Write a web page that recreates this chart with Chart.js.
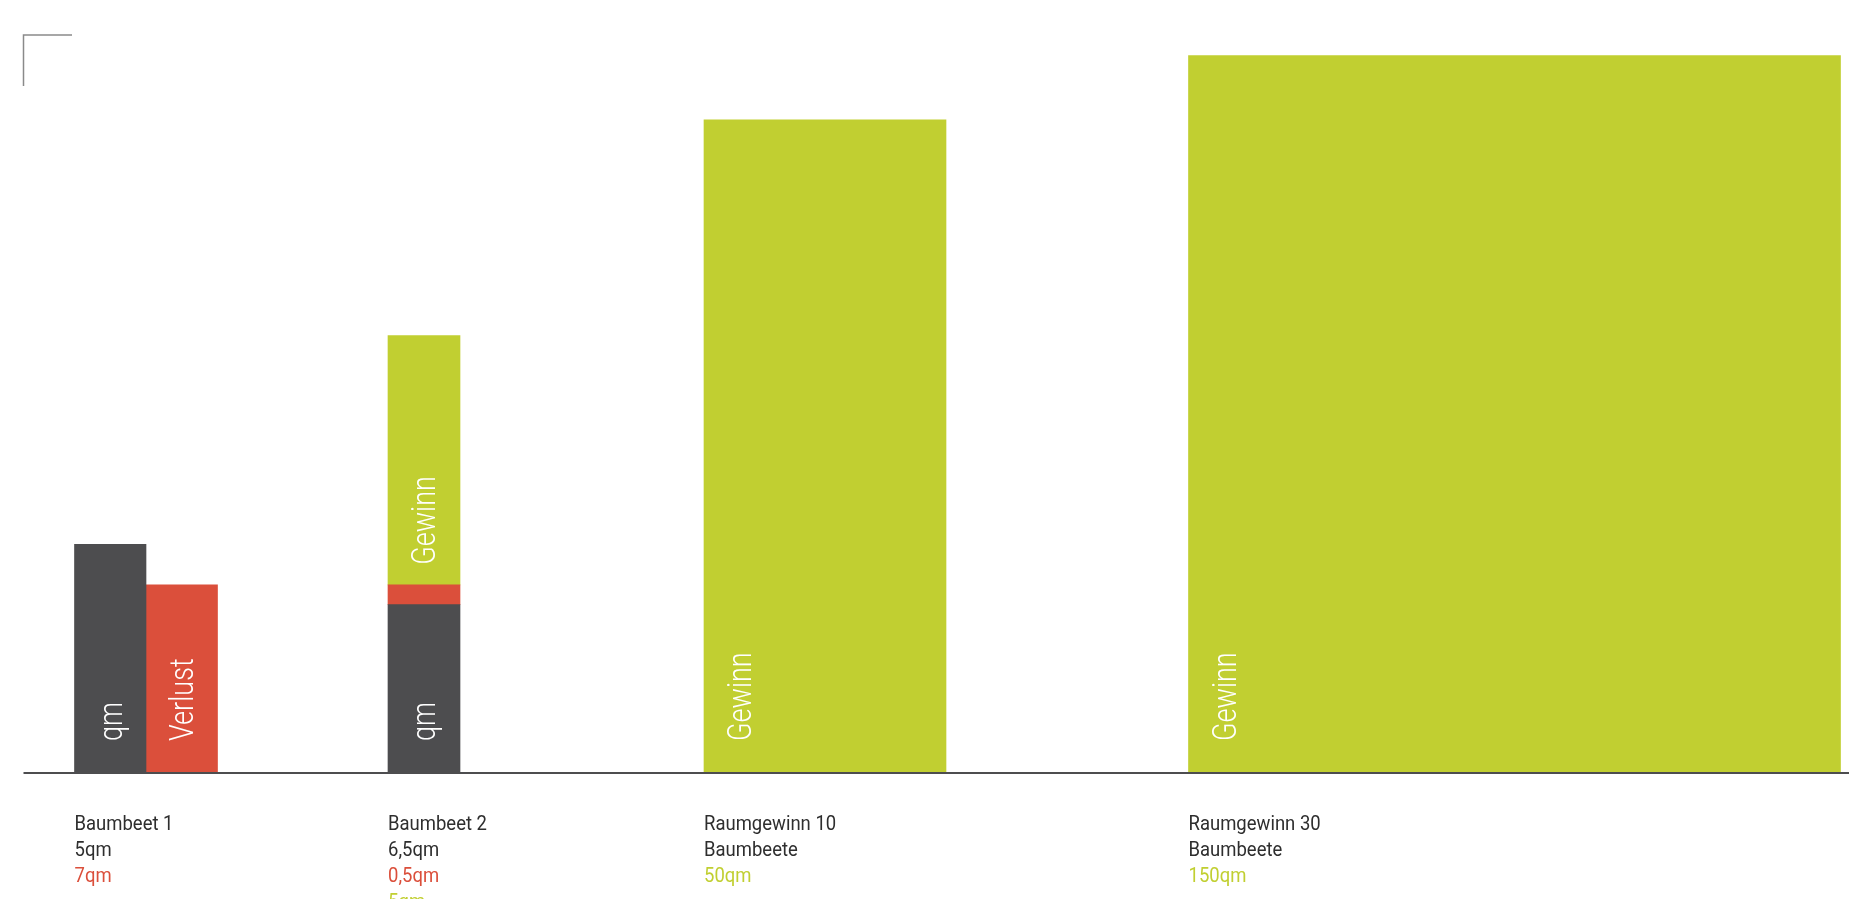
<!DOCTYPE html>
<html lang="de">
<head>
<meta charset="utf-8">
<title>Raumgewinn Baumbeete</title>
<script src="https://cdn.jsdelivr.net/npm/chart.js@4.4.1/dist/chart.umd.min.js"></script>
<style>
    html, body { margin: 0; padding: 0; background: #ffffff; }
    #chartBox { position: relative; width: 1849px; height: 899px; }
</style>
</head>
<body>
<div id="chartBox"><canvas id="raumgewinnChart"></canvas></div>
<script>
const categories = ['Baumbeet 1', 'Baumbeet 2', 'Raumgewinn 10', 'Raumgewinn 30'];
const categorySubtitles = ['', '', 'Baumbeete', 'Baumbeete'];

// areas printed under each column, in qm
const areaValues = [5, 6.5, null, null];
const lossValues = [7, 0.5, null, null];
const gainValues = [null, 5, 50, 150];

// drawn bar heights (the graphic is not to scale), axis 0-100
const areaHeights = [30.9, 22.7, null, null];
const lossHeights = [25.4, 2.7, null, null];
const gainHeights = [null, 33.8, 88.5, 97.2];

const seriesLabels = ['qm', 'Verlust', 'Gewinn'];

const colors = {
    area: '#4d4d4f',
    loss: '#db4f3b',
    gain: '#c1cf31',
    text: '#2e2e2e',
    corner: '#8a8a8a',
};

// column geometry, px from the left edge of the plot area
const columnLeft = [51, 364.5, 680.5, 1165];
const columnWidth = [71.5, 72, 242, 652];
// Baumbeet 1 shows qm and Verlust next to each other, the others stack
const sideBySide = [true, false, false, false];

const plotWidth = 1849 - 23.5;

function formatQm(value) {
    return String(value).replace('.', ',') + 'qm';
}

const series = [
    { label: seriesLabels[0], heights: areaHeights, color: colors.area },
    { label: seriesLabels[1], heights: lossHeights, color: colors.loss },
    { label: seriesLabels[2], heights: gainHeights, color: colors.gain },
];

const datasets = [];

series.forEach((s, sIndex) => {
    s.heights.forEach((height, i) => {
        if (height === null) {
            return;
        }

        const shift = sideBySide[i] && sIndex === 1 ? columnWidth[i] : 0;

        datasets.push({
            label: categories[i] + ' – ' + s.label,
            innerLabel: s.label,
            data: [{ x: columnLeft[i] + shift + columnWidth[i] / 2, y: height }],
            backgroundColor: s.color,
            borderWidth: 0,
            barThickness: columnWidth[i],
            stack: 'column',
        });
    });
});

const framePlugin = {
    id: 'frame',
    afterDatasetsDraw(chart) {
        const { ctx, chartArea } = chart;

        ctx.save();
        // corner mark
        ctx.strokeStyle = colors.corner;
        ctx.lineWidth = 1.5;
        ctx.beginPath();
        ctx.moveTo(chartArea.left + 48.5, chartArea.top);
        ctx.lineTo(chartArea.left, chartArea.top);
        ctx.lineTo(chartArea.left, chartArea.top + 51);
        ctx.stroke();

        // base line
        ctx.strokeStyle = colors.area;
        ctx.lineWidth = 2;
        ctx.beginPath();
        ctx.moveTo(chartArea.left, chartArea.bottom + 1);
        ctx.lineTo(chart.width, chartArea.bottom + 1);
        ctx.stroke();
        ctx.restore();
    },
};

const barTextPlugin = {
    id: 'barText',
    afterDatasetsDraw(chart) {
        const { ctx, chartArea } = chart;

        chart.data.datasets.forEach((dataset, di) => {
            const bar = chart.getDatasetMeta(di).data[0];

            if (!bar) {
                return;
            }

            const { x, y, base, width } = bar.getProps(['x', 'y', 'base', 'width'], true);

            if (base - y < 60) {
                return;
            }

            const onGround = Math.abs(base - chartArea.bottom) < 1;

            ctx.save();
            ctx.translate(x - width / 2 + 47, base - (onGround ? 31 : 20));
            ctx.rotate(-Math.PI / 2);
            ctx.scale(0.82, 1);
            ctx.font = '300 33px Roboto, sans-serif';
            ctx.fillStyle = '#ffffff';
            ctx.textBaseline = 'alphabetic';
            ctx.textAlign = 'left';
            ctx.fillText(dataset.innerLabel, 0, 0);
            ctx.restore();
        });
    },
};

const categoryTextPlugin = {
    id: 'categoryText',
    afterDraw(chart) {
        const { ctx, chartArea } = chart;
        const xScale = chart.scales.x;

        categories.forEach((name, i) => {
            const left = xScale.getPixelForValue(columnLeft[i]);
            const lines = [[name, colors.text]];

            if (categorySubtitles[i]) {
                lines.push([categorySubtitles[i], colors.text]);
            }
            if (areaValues[i] !== null) {
                lines.push([formatQm(areaValues[i]), colors.text]);
            }
            if (lossValues[i] !== null) {
                lines.push([formatQm(lossValues[i]), colors.loss]);
            }
            if (gainValues[i] !== null) {
                lines.push([formatQm(gainValues[i]), colors.gain]);
            }

            lines.forEach(([text, color], li) => {
                ctx.save();
                ctx.translate(left, chartArea.bottom + 58 + li * 26);
                ctx.scale(0.88, 1);
                ctx.font = '400 21px Roboto, sans-serif';
                ctx.fillStyle = color;
                ctx.textBaseline = 'alphabetic';
                ctx.textAlign = 'left';
                ctx.fillText(text, 0, 0);
                ctx.restore();
            });
        });
    },
};

new Chart(document.getElementById('raumgewinnChart'), {
    type: 'bar',
    data: { datasets },
    options: {
        responsive: true,
        maintainAspectRatio: false,
        animation: false,
        grouped: false,
        layout: {
            padding: { left: 23.5, right: 0, top: 35, bottom: 127 },
        },
        plugins: {
            legend: { display: false },
            tooltip: { enabled: false },
        },
        scales: {
            x: {
                type: 'linear',
                display: false,
                offset: false,
                min: 0,
                max: plotWidth,
            },
            y: {
                display: false,
                stacked: true,
                min: 0,
                max: 100,
            },
        },
    },
    plugins: [framePlugin, barTextPlugin, categoryTextPlugin],
});
</script>
</body>
</html>
